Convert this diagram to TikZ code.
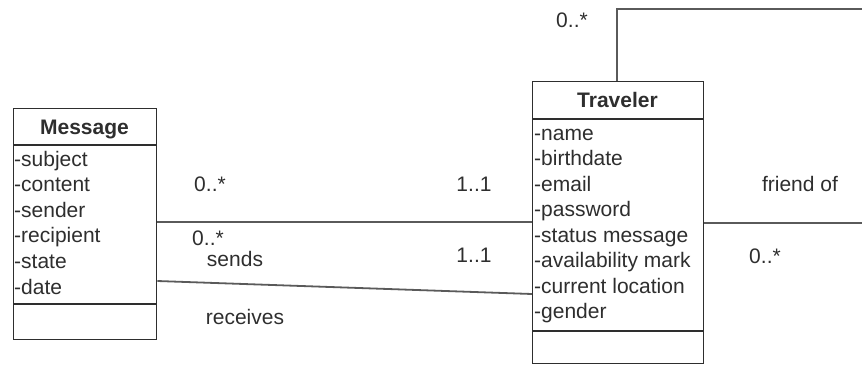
\documentclass[tikz,border=0pt]{standalone}
\usepackage{fontspec}
\setmainfont{Liberation Sans}
\definecolor{ink}{HTML}{2E2E2E}
\definecolor{wire}{HTML}{5A5A5A}
\begin{document}
\begin{tikzpicture}[x=1pt,y=-1pt,
  classbox/.style={draw=ink,line width=1.4pt,fill=white,inner sep=0pt,anchor=north west},
  divider/.style={draw=ink,line width=1.4pt},
  assoc/.style={draw=wire,line width=1.8pt},
  title/.style={font=\fontsize{21}{24}\selectfont\bfseries,text=ink,inner sep=0pt,anchor=base},
  attr/.style={font=\fontsize{21}{24}\selectfont,text=ink,inner sep=0pt,anchor=base west},
  lbl/.style={font=\fontsize{21}{24}\selectfont,text=ink,inner sep=0pt}]
\useasboundingbox (0,0) rectangle (862,365);

% Message class
\node[classbox,minimum width=143pt,minimum height=231pt] (msg) at (13,108) {};
\draw[divider] (13,145) -- (156,145);
\draw[divider] (13,304) -- (156,304);
\node[title] (msgtitle) at (84.5,134) {Message};
\foreach \t [count=\i from 0] in {subject,content,sender,recipient,state,date}
  \node[attr] (m\i) at (14,166+25.6*\i) {-\t};

% Traveler class
\node[classbox,minimum width=171pt,minimum height=282pt] (trav) at (532,81) {};
\draw[divider] (532,119) -- (703,119);
\draw[divider] (532,331) -- (703,331);
\node[title] (travtitle) at (617.5,107) {Traveler};
\foreach \t [count=\i from 0] in {name,birthdate,email,password,status message,availability mark,current location,gender}
  \node[attr] (t\i) at (534,140+25.57*\i) {-\t};

% associations
\coordinate (selfA) at (617,9);
\coordinate (selfB) at (862,9);
\coordinate (selfC) at (862,223);
\draw[assoc] (trav.north -| selfA) -- (selfA) -- (selfB);
\draw[assoc] (trav.east |- selfC) -- (selfC);
\draw[assoc] (msg.east |- 0,222) -- (trav.west |- 0,222);
\draw[assoc] (msg.east |- 0,281) -- (trav.west |- 0,294);

% multiplicities and role names
\node[lbl] (la) at (572,20) {0..*};
\node[lbl] (lb) at (210,184) {0..*};
\node[lbl] (lc) at (474,184) {1..1};
\node[lbl] (ld) at (208,238.5) {0..*};
\node[lbl] (le) at (235,259) {sends};
\node[lbl] (lf) at (474,255) {1..1};
\node[lbl] (lg) at (245,317) {receives};
\node[lbl] (lh) at (800,184) {friend of};
\node[lbl] (li) at (765,256) {0..*};
\end{tikzpicture}
\end{document}
